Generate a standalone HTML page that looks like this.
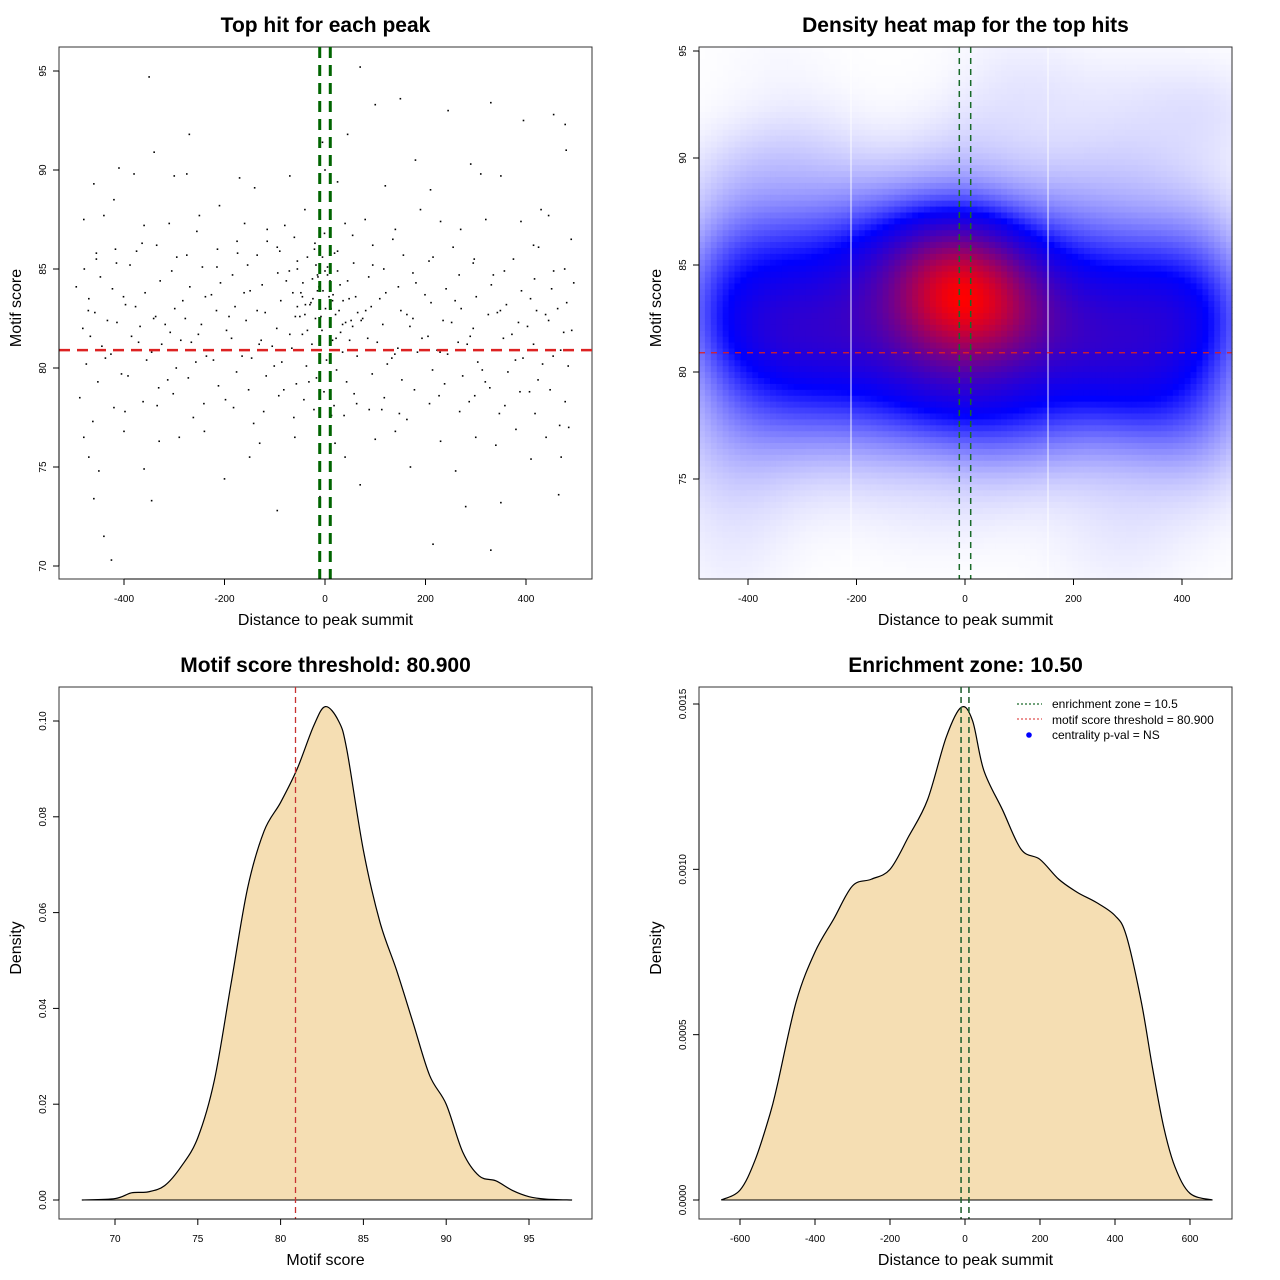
<!DOCTYPE html>
<html><head><meta charset="utf-8">
<style>
html,body{margin:0;padding:0;background:#fff;}
svg{display:block;font-family:"Liberation Sans",Arial,sans-serif;}
</style></head>
<body>
<svg id="chart" xmlns="http://www.w3.org/2000/svg" width="1280" height="1280" viewBox="0 0 1280 1280">
<rect width="1280" height="1280" fill="#fff"/>
<g id="p1"></g>
<g id="p2"></g>
<g id="p3"></g>
<g id="p4"></g>
</svg>
<script>
// ---------- data ----------
const scatterX = [-350,70,-5,150,100,245,330,455,478,-270,45,395,-410,-340,-275,-300,0,180,290,480,-460,-380,-170,-140,-70,25,120,210,310,350,430,-480,-440,-420,-360,-310,-250,-210,-160,-115,-80,-40,10,40,80,140,190,230,270,320,390,445,490,
-425,-440,215,330,-10,-345,-460,-95,280,465,-200,70,350,-470,-450,-360,-150,40,170,260,410,470,-480,-400,-330,-290,-240,-130,-60,20,100,140,230,300,340,380,440,485,
-488,-475,-482,-470,-479,-452,-444,-458,-447,-455,-420,-426,-414,-423,-417,-392,-385,-397,-388,-362,-355,-368,-358,-364,-331,-325,-337,-328,-302,-296,-308,-299,-305,-272,-266,-278,-269,-275,-241,-236,-246,-238,-244,-212,-205,-216,-208,-214,-182,-176,-186,-179,-184,-174,-152,-146,-157,-149,-154,-122,-117,-127,-119,-125,-115,-92,-86,-96,-88,-94,-90,-62,-57,-66,-59,-64,-55,-61,-42,-37,-45,-39,-44,-35,-22,-17,-26,-19,-24,-14,-21,-2,3,-6,1,-4,5,-1,18,23,15,21,16,25,19,38,43,35,41,36,45,58,64,55,61,57,88,94,85,92,87,95,118,124,115,121,117,148,153,145,151,146,156,178,184,175,181,208,214,205,211,207,238,244,235,241,268,274,265,271,267,298,304,295,301,297,328,334,325,331,358,364,355,361,357,388,394,385,391,418,424,415,421,417,425,448,454,445,451,478,484,475,481,477,
-30,-12,8,28,-48,52,-25,12,-8,30,-35,15,-18,5,35,-55,65,-70,75,-15,10,-40,48,-5,22,-28,0,
-467,-433,-405,-377,-345,-318,-287,-257,-226,-196,-165,-135,-105,-77,-50,-10,31,72,104,133,163,193,223,252,283,313,343,372,403,433,463,491,
-471,-437,-401,-371,-341,-313,-283,-252,-222,-191,-161,-131,-101,-71,-45,-15,11,49,81,109,139,169,199,229,259,289,319,349,379,409,439,469,
-462,-398,-334,-262,-198,-142,-82,-32,13,63,113,163,227,287,347,407,467,
-495,-455,-415,-375,-335,-295,-255,-215,-175,-135,-95,-55,-20,25,55,95,135,175,215,255,295,335,375,415,455,495];
const scatterY = [94.7,95.2,91.4,93.6,93.3,93,93.4,92.8,92.3,91.8,91.8,92.5,90.1,90.9,89.8,89.7,90,90.5,90.3,91,89.3,89.8,89.6,89.1,89.7,89.4,89.2,89,89.8,89.7,88,87.5,87.7,88.5,87.2,87.3,87.7,88.2,87.3,87,87.2,88,87.8,87.3,87.5,87,88,87.4,87,87.5,87.4,87.7,86.5,
70.3,71.5,71.1,70.8,73.5,73.3,73.4,72.8,73,73.6,74.4,74.1,73.2,75.5,74.8,74.9,75.5,75.5,75,74.8,75.4,75.5,76.5,76.8,76.3,76.5,76.8,76.2,76.5,76.2,76.4,76.8,76.3,76.5,76.1,76.9,76.5,77,
78.5,80.2,82,83.5,85,79.3,81.1,82.8,84.6,85.5,78,80.7,82.3,84,86,79.6,81.6,83.2,85.2,78.3,80.4,82.1,83.8,86.3,79,81.2,82.6,84.4,78.7,80,81.8,83,84.9,79.5,81.3,82.5,84.1,85.7,78.2,80.6,82.2,83.6,85.1,79.1,80.9,82.9,84.3,86,78,79.8,81.5,83.1,84.7,85.8,78.9,80.5,82.4,83.9,85.2,77.8,79.6,81.4,82.8,84.2,86.4,78.6,80.3,82,83.4,84.8,85.9,77.5,79.2,81,82.6,83.8,85,86.6,78.4,80.1,81.7,83.2,84.3,85.6,77.9,79.5,81.2,82.5,83.5,84.6,86,78.8,80.4,81.9,83,83.9,85.1,86.8,78.1,79.9,81.4,82.7,83.7,84.9,85.8,77.6,79.3,80.8,82.3,83.4,84.4,78.7,80.6,82.1,83.6,85.3,77.9,79.7,81.5,83.1,84.6,86.2,78.5,80.2,82.2,83.8,85,77.7,79.4,81,82.9,84.1,85.7,78.9,80.8,82.5,84.3,78.2,79.9,81.6,83.3,85.4,79.2,80.7,82.4,84,77.8,79.6,81.3,83,84.7,78.6,80.3,82,83.6,85.5,79,80.9,82.7,84.2,78.1,79.8,81.5,83.2,84.9,78.8,80.5,82.3,83.9,77.7,79.4,81.2,82.9,84.5,86.1,78.9,80.6,82.4,84,78.3,80.1,81.8,83.3,85,
83.2,84.1,83.6,82.9,83.8,82.4,84.5,83,82.6,84.2,81.9,83.4,85.2,84.7,82.2,83.1,82.8,81.7,82.5,83.9,84.4,82.7,83.5,85.6,81.5,83.3,84.9,
81.6,82.4,79.7,83.1,80.8,82.2,81.4,80.3,83.7,81.9,80.6,82.9,81.1,84.4,82.6,83.3,81.8,82.4,81.3,80.5,82.7,81.5,80.9,82.3,81.2,79.9,82.8,81.7,82.1,80.2,83,81.9,
82.9,80.5,83.6,81.3,82.5,79.4,83.4,81.7,80.4,82.6,83.8,81.2,80.1,84.9,83.6,84.7,83.9,81.4,82.9,83.5,80.7,82.1,83.7,80.8,83.4,81.6,79.3,82.9,80.4,83.5,82.7,80.9,
77.3,77.8,78.1,77.5,78.4,77.2,78.9,79.3,77.6,78.2,77.9,77.4,78.6,78.3,77.7,78.8,77.1,
84.1,85.8,85.3,85.9,86.2,85.6,86.9,85.1,86.4,85.7,86.1,85.4,86.3,85.9,86.7,85.2,86.5,84.8,85.6,86.1,85.3,84.7,85.5,86.2,84.9,84.3];

const scoreX = [68,70,71,72,73,74,75,76,77,78,79,80,81,82,82.7,83.5,84,85,86,87,88,89,90,91,92,93,94,95,96,97.6];
const scoreDens = [0,0.0003,0.0015,0.0017,0.003,0.007,0.013,0.025,0.045,0.065,0.077,0.083,0.09,0.099,0.103,0.1,0.094,0.073,0.058,0.048,0.037,0.026,0.02,0.01,0.005,0.004,0.002,0.0007,0.0002,0];

const distX = [-650,-600,-560,-520,-500,-450,-400,-350,-300,-250,-200,-150,-100,-50,-10,20,50,100,150,200,250,300,350,400,430,470,500,530,560,600,660];
const distDens = [0,0.00003,0.00012,0.00026,0.00035,0.0006,0.00075,0.00085,0.00095,0.00097,0.001,0.0011,0.00121,0.0014,0.00149,0.00145,0.0013,0.00118,0.00106,0.00103,0.00097,0.00093,0.0009,0.00086,0.0008,0.0006,0.0004,0.00022,0.0001,0.00002,0];

const xTicks1 = [-400,-200,0,200,400];
const yTicks1 = [70,75,80,85,90,95];
const yTicks2 = [75,80,85,90,95];
const xTicks3 = [70,75,80,85,90,95];
const yTicks3 = [0,0.02,0.04,0.06,0.08,0.10];
const yTickLabels3 = ["0.00","0.02","0.04","0.06","0.08","0.10"];
const xTicks4 = [-600,-400,-200,0,200,400,600];
const yTicks4 = [0,0.0005,0.001,0.0015];
const yTickLabels4 = ["0.0000","0.0005","0.0010","0.0015"];
const scoreThreshold = [80.9];
const enrichZone = [10.5];

// ---------- helpers ----------
const NS="http://www.w3.org/2000/svg";
function mk(parent,tag,attrs,text){const e=document.createElementNS(NS,tag);for(const k in attrs)e.setAttribute(k,attrs[k]);if(text!==undefined)e.textContent=text;parent.appendChild(e);return e;}
function lin(d0,d1,r0,r1){return v=>r0+(v-d0)*(r1-r0)/(d1-d0);}

function frame(g,box,title,xlab,ylab,xt,xs,xtl,yt,ys,ytl){
  const t=mk(g,'text',{x:(box.l+box.r)/2,y:box.t-15,'text-anchor':'middle','font-size':21,'font-weight':'bold',fill:'#000'},title);
  
  const xl=mk(g,'text',{x:(box.l+box.r)/2,y:box.b+46,'text-anchor':'middle','font-size':16,fill:'#000'},xlab);
  
  const cy=(box.t+box.b)/2;
  const yl=mk(g,'text',{x:box.l-38,y:cy+5,'text-anchor':'middle','font-size':16,fill:'#000',transform:`rotate(-90 ${box.l-43} ${cy})`},ylab);
  
  const xa=mk(g,'g',{});
  mk(xa,'line',{x1:xs(xt[0]),x2:xs(xt[xt.length-1]),y1:box.b,y2:box.b,stroke:'#000'});
  xt.forEach((v,i)=>{const x=xs(v);mk(xa,'line',{x1:x,x2:x,y1:box.b,y2:box.b+6,stroke:'#000'});
    const lb=mk(xa,'text',{x:x,y:box.b+23,'text-anchor':'middle','font-size':10,fill:'#000'},xtl?xtl[i]:String(v));
    });
  const ya=mk(g,'g',{});
  mk(ya,'line',{x1:box.l,x2:box.l,y1:ys(yt[0]),y2:ys(yt[yt.length-1]),stroke:'#000'});
  yt.forEach((v,i)=>{const y=ys(v);mk(ya,'line',{x1:box.l,x2:box.l-6,y1:y,y2:y,stroke:'#000'});
    const lx=box.l-13;
    const lb=mk(ya,'text',{x:lx,y:y,'text-anchor':'middle','font-size':10,fill:'#000',transform:`rotate(-90 ${lx} ${y})`},ytl?ytl[i]:String(v));
    });
}
function boxRect(g,box){const r=mk(g,'rect',{x:box.l,y:box.t,width:box.r-box.l,height:box.b-box.t,fill:'none',stroke:'#333','stroke-width':1});
  }
function smoothPath(xs,ys,X,Y){
  const p=X.map((v,i)=>[xs(v),ys(Y[i])]);const base=ys(0);
  let d=`M${p[0][0]},${p[0][1]}`;
  for(let i=0;i<p.length-1;i++){const p0=p[i-1]||p[i],p1=p[i],p2=p[i+1],p3=p[i+2]||p2;
    const c1=[p1[0]+(p2[0]-p0[0])/6,Math.min(base,p1[1]+(p2[1]-p0[1])/6)],c2=[p2[0]-(p3[0]-p1[0])/6,Math.min(base,p2[1]-(p3[1]-p1[1])/6)];
    d+=` C${c1[0]},${c1[1]} ${c2[0]},${c2[1]} ${p2[0]},${p2[1]}`;}
  return {d,first:p[0],last:p[p.length-1]};
}

// ---------- panel 1: scatter ----------
(function(){
  const g=document.getElementById('p1');const box={l:59,r:592,t:47,b:579};
  const xs=lin(0,400,325,526), ys=lin(95,70,71,566);
  boxRect(g,box);
  const pts=mk(g,'g',{});
  scatterX.forEach((v,i)=>{const c=mk(pts,'rect',{x:xs(v)-0.8,y:ys(scatterY[i])-0.8,width:1.6,height:1.6,fill:'#000'});
    });
  const h=mk(g,'line',{x1:box.l,x2:box.r,y1:ys(scoreThreshold[0]),y2:ys(scoreThreshold[0]),stroke:'#dd2222','stroke-width':2.5,'stroke-dasharray':'11,7'});
  
  [-enrichZone[0],enrichZone[0]].forEach(v=>{const l=mk(g,'line',{x1:xs(v),x2:xs(v),y1:box.t,y2:box.b,stroke:'#006400','stroke-width':3,'stroke-dasharray':'11,7'});
    });
  frame(g,box,'Top hit for each peak','Distance to peak summit','Motif score',xTicks1,xs,null,yTicks1,ys,null);
})();

// ---------- panel 2: heat map ----------
(function(){
  const g=document.getElementById('p2');const box={l:699,r:1232,t:47,b:579};
  const xs=lin(0,400,965,1182), ys=lin(80,75,372,479);
  const hm=mk(g,'g',{});
  const NX=90,NY=90,cw=(box.r-box.l)/NX,ch=(box.b-box.t)/NY;
  const bx=80,by=1.7;const grid=[];let mx=0;
  for(let j=0;j<NY;j++){for(let i=0;i<NX;i++){
    const px=box.l+(i+0.5)*cw,py=box.t+(j+0.5)*ch;
    const vx=(px-965)/0.5425, vy=80-(py-372)/21.33;let d=0;
    for(let k=0;k<scatterX.length;k++){const a=(scatterX[k]-vx)/bx,b=(scatterY[k]-vy)/by;const q=a*a+b*b;if(q<25)d+=Math.exp(-0.5*q);}
    grid.push(d);if(d>mx)mx=d;}}
  const knee=0.36;
  function col(t){let r,gg,b;if(t<knee){const s=Math.pow(t/knee,1.3);r=255*(1-s);gg=255*(1-s);b=255;}else{const s=Math.min(1,(t-knee)/(1-knee));r=255*s;gg=0;b=255*(1-s);}return `rgb(${r|0},${gg|0},${b|0})`;}
  for(let j=0;j<NY;j++)for(let i=0;i<NX;i++){
    const t=grid[j*NX+i]/mx;
    const c=mk(hm,'rect',{x:box.l+i*cw,y:box.t+j*ch,width:cw+0.6,height:ch+0.6,fill:col(t)});
    }
  [851,1048].forEach(x=>{const l=mk(g,'line',{x1:x,x2:x,y1:box.t,y2:box.b,stroke:'#fff','stroke-width':1,'stroke-opacity':0.9});
    });
  const h=mk(g,'line',{x1:box.l,x2:box.r,y1:ys(scoreThreshold[0]),y2:ys(scoreThreshold[0]),stroke:'#e02020','stroke-width':1.3,'stroke-dasharray':'6,6'});
  
  [-enrichZone[0],enrichZone[0]].forEach(v=>{const l=mk(g,'line',{x1:xs(v),x2:xs(v),y1:box.t,y2:box.b,stroke:'#1a6b2a','stroke-width':1.5,'stroke-dasharray':'6,5'});
    });
  boxRect(g,box);
  frame(g,box,'Density heat map for the top hits','Distance to peak summit','Motif score',xTicks1,xs,null,yTicks2,ys,null);
})();

// ---------- panel 3: motif score density ----------
(function(){
  const g=document.getElementById('p3');const box={l:59,r:592,t:687,b:1219};
  const xs=lin(70,95,115,529), ys=lin(0,0.1,1200,721);
  boxRect(g,box);
  const sp=smoothPath(xs,ys,scoreX,scoreDens);
  const a=mk(g,'path',{d:sp.d+` L${sp.last[0]},${ys(0)} L${sp.first[0]},${ys(0)} Z`,fill:'#f5deb3',stroke:'none'});
  
  const l=mk(g,'path',{d:sp.d,fill:'none',stroke:'#000','stroke-width':1.2});
  
  const b=mk(g,'line',{x1:sp.first[0],x2:sp.last[0],y1:ys(0),y2:ys(0),stroke:'#000','stroke-width':1});
  
  const v=mk(g,'line',{x1:xs(scoreThreshold[0]),x2:xs(scoreThreshold[0]),y1:box.t,y2:box.b,stroke:'#c83232','stroke-width':1.3,'stroke-dasharray':'6,4'});
  
  frame(g,box,'Motif score threshold: 80.900','Motif score','Density',xTicks3,xs,null,yTicks3,ys,yTickLabels3);
})();

// ---------- panel 4: distance density ----------
(function(){
  const g=document.getElementById('p4');const box={l:699,r:1232,t:687,b:1219};
  const xs=lin(0,400,965,1115), ys=lin(0,0.0015,1200,704);
  boxRect(g,box);
  const sp=smoothPath(xs,ys,distX,distDens);
  const a=mk(g,'path',{d:sp.d+` L${sp.last[0]},${ys(0)} L${sp.first[0]},${ys(0)} Z`,fill:'#f5deb3',stroke:'none'});
  
  const l=mk(g,'path',{d:sp.d,fill:'none',stroke:'#000','stroke-width':1.2});
  
  const b=mk(g,'line',{x1:sp.first[0],x2:sp.last[0],y1:ys(0),y2:ys(0),stroke:'#000','stroke-width':1});
  
  [-enrichZone[0],enrichZone[0]].forEach(v=>{const e=mk(g,'line',{x1:xs(v),x2:xs(v),y1:box.t,y2:box.b,stroke:'#1a5c2a','stroke-width':1.5,'stroke-dasharray':'6,4'});
    });
  const lg=mk(g,'g',{});
  const e1=mk(lg,'line',{x1:1017,x2:1042,y1:704,y2:704,stroke:'#1a6b2a','stroke-width':1.2,'stroke-dasharray':'2,2'});
  
  const e2=mk(lg,'line',{x1:1017,x2:1042,y1:719,y2:719,stroke:'#e05050','stroke-width':1.2,'stroke-dasharray':'2,2'});
  
  const e3=mk(lg,'circle',{cx:1029,cy:735,r:2.8,fill:'#0000ff'});
  
  [['enrichment zone = 10.5',708],['motif score threshold = 80.900',724],['centrality p-val = NS',739]].forEach(([t,y])=>{
    const tx=mk(lg,'text',{x:1052,y:y,'font-size':12,fill:'#000'},t);});
  frame(g,box,'Enrichment zone: 10.50','Distance to peak summit','Density',xTicks4,xs,null,yTicks4,ys,yTickLabels4);
})();
</script>
</body></html>
